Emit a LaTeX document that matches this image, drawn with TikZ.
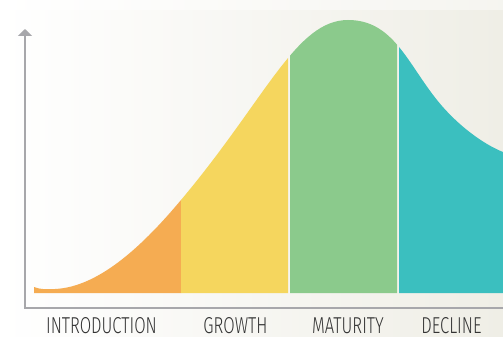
\documentclass[tikz,border=0pt]{standalone}
\usepackage{fontspec}
\newfontfamily\labelfont[FakeStretch=0.72]{Fira Sans Light}
\usetikzlibrary{arrows.meta}
\definecolor{axisgray}{HTML}{A7A7AB}
\definecolor{cOrange}{HTML}{F5AC52}
\definecolor{cYellow}{HTML}{F5D65E}
\definecolor{cGreen}{HTML}{8BCA8C}
\definecolor{cTeal}{HTML}{3BBFBF}
\definecolor{bgRight}{HTML}{EFEEE6}
\definecolor{txt}{HTML}{333333}
\tikzset{
  stagelabel/.style={font=\labelfont\fontsize{23}{23}\selectfont, text=txt, anchor=base, inner sep=0pt},
  axisline/.style={draw=axisgray, line width=2pt, line join=miter},
}
\begin{document}
\begin{tikzpicture}[x=1pt,y=-1pt]
\useasboundingbox (0,0) rectangle (503,337);
% background
\shade[left color=white, right color=bgRight] (0,0) rectangle (503,337);
\shade[left color=white, right color=bgRight!60!white] (0,0) rectangle (503,10);
% curve region
\def\curvearea{(34,287) .. controls (40,289.5) and (47,289.5) .. (55,289)
  .. controls (100,287) and (145,243) .. (181,200)
  .. controls (266,98.9) and (296,20) .. (348,20)
  .. controls (393,20) and (407,62.5) .. (437,100)
  .. controls (457,125) and (483,144) .. (503,152)
  -- (503,293) -- (34,293) -- cycle}
\begin{scope}
  \clip (0,0) rectangle (181,300);
  \fill[cOrange] \curvearea;
\end{scope}
\begin{scope}
  \clip (181,0) rectangle (288,300);
  \fill[cYellow] \curvearea;
\end{scope}
\begin{scope}
  \clip (290,0) rectangle (397,300);
  \fill[cGreen] \curvearea;
\end{scope}
\begin{scope}
  \clip (399,0) rectangle (503,300);
  \fill[cTeal] \curvearea;
\end{scope}
% axes
\coordinate (xend) at (503,308);
\coordinate (origin) at (25,308);
\coordinate (ytop) at (25,29);
\draw[axisline, -{Triangle[width=14pt,length=7pt]}] (xend) -- (origin) -- (ytop);
% labels
\node[stagelabel] (intro) at (101.5,333.5) {INTRODUCTION};
\node[stagelabel] (growth) at (235.5,333.5) {GROWTH};
\node[stagelabel] (maturity) at (348,333.5) {MATURITY};
\node[stagelabel] (decline) at (451.5,333.5) {DECLINE};
\end{tikzpicture}
\end{document}
